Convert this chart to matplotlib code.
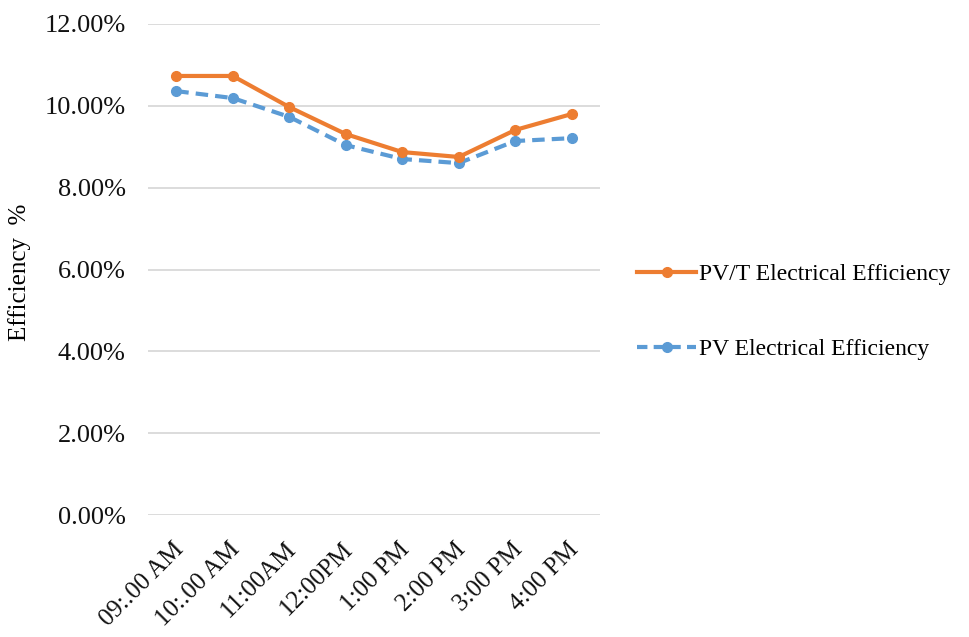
import matplotlib.pyplot as plt
from matplotlib.ticker import FuncFormatter
from matplotlib.lines import Line2D
from matplotlib.transforms import ScaledTranslation

# 数据
times = ['09:.00 AM', '10:.00 AM', '11:00AM', '12:00PM', '1:00 PM', '2:00 PM', '3:00 PM', '4:00 PM']
pvt_eff = [10.73, 10.73, 9.97, 9.31, 8.87, 8.75, 9.41, 9.80]
pv_eff = [10.36, 10.19, 9.73, 9.04, 8.70, 8.60, 9.14, 9.21]

plt.rcParams['font.family'] = ['Liberation Serif', 'DejaVu Serif']

fig = plt.figure(figsize=(9.7, 6.37), dpi=100)
ax = fig.add_axes([148 / 970, 1 - 515 / 637, 452 / 970, 491 / 637])

x = [i + 0.5 for i in range(len(times))]
orange = '#ED7D31'
blue = '#5B9BD5'
ax.plot(x, pvt_eff, color=orange, lw=3, marker='o', ms=7, zorder=3)
ax.plot(x, pv_eff, color=blue, lw=3, ls=(0, (3, 1.7)), marker='o', ms=7, zorder=2)

ax.set_xlim(0, len(times))
ax.set_ylim(0, 12)
ax.set_yticks([0, 2, 4, 6, 8, 10, 12])
ax.yaxis.set_major_formatter(FuncFormatter(lambda v, p: f'{v:.2f}%'))
ax.set_xticks(x)
ax.set_xticklabels(times, rotation=45, ha='right', rotation_mode='anchor')
ax.tick_params(axis='both', length=0, colors='#111111')
ax.tick_params(axis='y', pad=16, labelsize=19)
ax.tick_params(axis='x', pad=8, labelsize=18)
# x 轴标签稍微往下移
shift = ScaledTranslation(-4 / 100, -12 / 100, fig.dpi_scale_trans)
for lab in ax.get_xticklabels():
    lab.set_transform(lab.get_transform() + shift)
ax.grid(axis='y', color='#D9D9D9', lw=1.3)
ax.set_axisbelow(True)
for s in ax.spines.values():
    s.set_visible(False)

fig.text(20 / 970, 1 - 272 / 637, 'Efficiency  %', rotation=90, va='center', ha='center', fontsize=18)

# 图例
handles = [Line2D([], [], color=orange, lw=3, marker='o', ms=7),
           Line2D([], [], color=blue, lw=3, ls=(0, (2.5, 1.5)), marker='o', ms=7)]
fig.legend(handles, ['PV/T Electrical Efficiency', 'PV Electrical Efficiency'],
           loc='center left', bbox_to_anchor=(616 / 970, 1 - 312 / 637),
           frameon=False, fontsize=17, handlelength=2.5, handletextpad=0.1,
           labelspacing=2.25)

fig.savefig('out.png', dpi=100)
